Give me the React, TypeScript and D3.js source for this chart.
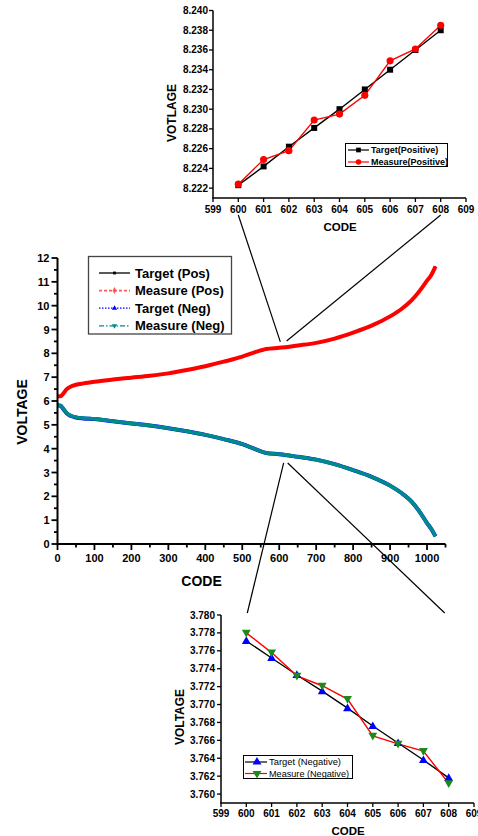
import React from "react";
import * as d3 from "d3";

// ---------- main chart data ----------
const codes = [0, 8, 15, 25, 35, 50, 70, 100, 150, 200, 250, 300, 350, 400, 450, 500, 535, 565, 600, 650, 700, 750, 800, 850, 900, 930, 960, 980, 1000, 1012, 1023];
const measurePos = [6.2, 6.2, 6.3, 6.5, 6.6, 6.68, 6.74, 6.81, 6.9, 6.98, 7.06, 7.16, 7.3, 7.46, 7.65, 7.86, 8.05, 8.18, 8.23, 8.33, 8.44, 8.62, 8.87, 9.16, 9.55, 9.85, 10.25, 10.62, 11.05, 11.3, 11.65];
const targetPos = [6.2, 6.2, 6.3, 6.5, 6.6, 6.68, 6.74, 6.81, 6.9, 6.98, 7.06, 7.16, 7.3, 7.46, 7.65, 7.86, 8.05, 8.18, 8.23, 8.33, 8.44, 8.62, 8.87, 9.16, 9.55, 9.85, 10.25, 10.62, 11.05, 11.3, 11.65];
const measureNeg = [5.82, 5.8, 5.7, 5.5, 5.4, 5.32, 5.28, 5.25, 5.15, 5.06, 4.97, 4.86, 4.73, 4.58, 4.4, 4.19, 3.98, 3.82, 3.77, 3.66, 3.54, 3.35, 3.1, 2.82, 2.45, 2.15, 1.75, 1.35, 0.88, 0.62, 0.32];
const targetNeg = [5.82, 5.8, 5.68, 5.48, 5.38, 5.31, 5.27, 5.24, 5.15, 5.06, 4.97, 4.86, 4.73, 4.58, 4.4, 4.19, 3.98, 3.82, 3.77, 3.66, 3.54, 3.35, 3.1, 2.82, 2.45, 2.15, 1.75, 1.35, 0.88, 0.62, 0.32];
const mainXTicks = [0, 100, 200, 300, 400, 500, 600, 700, 800, 900, 1000];
const mainYTicks = [0, 1, 2, 3, 4, 5, 6, 7, 8, 9, 10, 11, 12];
const mainLegend = ["Target (Pos)", "Measure (Pos)", "Target (Neg)", "Measure (Neg)"];

// ---------- zoom insets data ----------
const zoomCodes = [600, 601, 602, 603, 604, 605, 606, 607, 608];
const zoomTargetPos = [8.2223, 8.2242, 8.2262, 8.2281, 8.23, 8.232, 8.234, 8.236, 8.238];
const zoomMeasurePos = [8.2224, 8.2249, 8.2258, 8.2289, 8.2295, 8.2314, 8.2349, 8.2361, 8.2385];
const zoomTargetNeg = [3.7771, 3.7752, 3.7733, 3.7715, 3.7696, 3.7676, 3.7657, 3.7638, 3.7618];
const zoomMeasureNeg = [3.778, 3.7758, 3.7732, 3.7721, 3.7706, 3.7665, 3.7656, 3.7648, 3.7612];
const zoomXTicks = [599, 600, 601, 602, 603, 604, 605, 606, 607, 608, 609];
const posYTicks = [8.222, 8.224, 8.226, 8.228, 8.23, 8.232, 8.234, 8.236, 8.238, 8.24];
const negYTicks = [3.76, 3.762, 3.764, 3.766, 3.768, 3.77, 3.772, 3.774, 3.776, 3.778, 3.78];
const posLegend = ["Target(Positive)", "Measure(Positive)"];
const negLegend = ["Target (Negative)", "Measure (Negative)"];

const FONT = "Arial, 'Liberation Sans', Helvetica, sans-serif";
const W = 478;
const H = 836;

export default function App() {
  // main scales
  const xM = d3.scaleLinear().domain([0, 1050]).range([57.5, 445.5]);
  const yM = d3.scaleLinear().domain([0, 12]).range([544, 258]);
  // top inset
  const xT = d3.scaleLinear().domain([599, 609]).range([213, 466]);
  const yT = d3.scaleLinear().domain([8.221, 8.24]).range([198, 10.5]);
  // bottom inset
  const xB = d3.scaleLinear().domain([599, 609]).range([221, 474]);
  const yB = d3.scaleLinear().domain([3.759, 3.78]).range([803, 615]);

  const mainLine = (vals: number[]) =>
    d3
      .line<number>()
      .x((_, i) => xM(codes[i]))
      .y((v) => yM(v))
      .curve(d3.curveMonotoneX)(vals) || "";

  const insetLine = (xs: d3.ScaleLinear<number, number>, ys: d3.ScaleLinear<number, number>, vals: number[]) =>
    d3
      .line<number>()
      .x((_, i) => xs(zoomCodes[i]))
      .y((v) => ys(v))(vals) || "";

  const sq = d3.symbol().type(d3.symbolSquare).size(36)() || "";
  const circ = d3.symbol().type(d3.symbolCircle).size(40)() || "";
  const triUp = d3.symbol().type(d3.symbolTriangle).size(34)() || "";
  const diamond = d3.symbol().type(d3.symbolDiamond).size(14)() || "";
  const smallSq = d3.symbol().type(d3.symbolSquare).size(8)() || "";
  const smallTri = d3.symbol().type(d3.symbolTriangle).size(12)() || "";

  const minorX = d3.range(0, 1051, 50).filter((v) => v % 100 !== 0);
  const minorY = d3.range(0.5, 12, 1);

  // connector anchors (data space)
  const topConn = [
    { ix: xT(600), iy: yT.range()[0] + 17, mx: xM(603), my: yM(8.48) },
    { ix: xT(608), iy: yT.range()[0] + 17, mx: xM(620), my: yM(8.52) },
  ];
  const botConn = [
    { ix: xB(600) + 1, iy: yB.range()[1] - 2, mx: xM(612), my: yM(3.4) },
    { ix: xB(608) - 4, iy: yB.range()[1] - 2, mx: xM(623), my: yM(3.4) },
  ];

  const legendStyles = [
    { stroke: "#000", dash: "", w: 1.3, marker: smallSq, fill: "#000", rot: 0 },
    { stroke: "#ff5a5a", dash: "3,2", w: 1.6, marker: diamond, fill: "#ff5a5a", rot: 0 },
    { stroke: "#0000ff", dash: "1.5,1.5", w: 1.2, marker: smallTri, fill: "#0000ff", rot: 0 },
    { stroke: "#008b8b", dash: "5,2,1.5,2", w: 1.3, marker: smallTri, fill: "#008b8b", rot: 180 },
  ];

  return (
    <svg
      width={W}
      height={H}
      style={{ position: "absolute", left: 0, top: 0, background: "#fff" }}
      fontFamily={FONT}
    >
      <rect x={0} y={0} width={W} height={H} fill="#fff" />

      {/* connectors */}
      {[...topConn, ...botConn].map((c, i) => (
        <line key={"c" + i} x1={c.ix} y1={c.iy} x2={c.mx} y2={c.my} stroke="#000" strokeWidth={1.2} />
      ))}

      {/* ================= MAIN CHART ================= */}
      <g>
        <path d={mainLine(targetPos)} fill="none" stroke="#000" strokeWidth={1.5} />
        <path d={mainLine(measurePos)} fill="none" stroke="#ff0000" strokeWidth={4} />
        <path d={mainLine(targetNeg)} fill="none" stroke="#0000ff" strokeWidth={4} />
        <path d={mainLine(measureNeg)} fill="none" stroke="#008b8b" strokeWidth={3.6} />

        {/* axes */}
        <line x1={xM(0)} x2={xM(0)} y1={yM(0) + 1} y2={yM(12)} stroke="#000" strokeWidth={2} />
        <line x1={xM(0) - 1} x2={xM(1050)} y1={yM(0)} y2={yM(0)} stroke="#000" strokeWidth={2} />
        {mainYTicks.map((t) => (
          <g key={"my" + t}>
            <line x1={xM(0) - 6} x2={xM(0)} y1={yM(t)} y2={yM(t)} stroke="#000" strokeWidth={1.8} />
            <text x={xM(0) - 8} y={yM(t) + 4} textAnchor="end" fontSize={11} fontWeight="bold">
              {t}
            </text>
          </g>
        ))}
        {minorY.map((t) => (
          <line key={"mmy" + t} x1={xM(0) - 3.5} x2={xM(0)} y1={yM(t)} y2={yM(t)} stroke="#000" strokeWidth={1.8} />
        ))}
        {mainXTicks.map((t) => (
          <g key={"mx" + t}>
            <line x1={xM(t)} x2={xM(t)} y1={yM(0)} y2={yM(0) + 6} stroke="#000" strokeWidth={1.8} />
            <text x={xM(t)} y={yM(0) + 18} textAnchor="middle" fontSize={11} fontWeight="bold">
              {t}
            </text>
          </g>
        ))}
        {minorX.map((t) => (
          <line key={"mmx" + t} x1={xM(t)} x2={xM(t)} y1={yM(0)} y2={yM(0) + 3.5} stroke="#000" strokeWidth={1.8} />
        ))}
        <text x={(xM(0) + xM(1050)) / 2 - 50} y={586} textAnchor="middle" fontSize={14} fontWeight="bold">
          CODE
        </text>
        <text
          transform={`translate(27,${(yM(0) + yM(12)) / 2 + 11}) rotate(-90)`}
          textAnchor="middle"
          fontSize={14}
          fontWeight="bold"
        >
          VOLTAGE
        </text>

        {/* legend */}
        <rect x={88.5} y={256.5} width={143} height={77.5} fill="#fff" stroke="#444" strokeWidth={1.3} />
        {mainLegend.map((name, i) => {
          const s = legendStyles[i];
          const ly = 273 + i * 17.6;
          return (
            <g key={name}>
              <line x1={99} x2={130} y1={ly} y2={ly} stroke={s.stroke} strokeWidth={s.w} strokeDasharray={s.dash} />
              <path d={s.marker} transform={`translate(114.5,${ly}) rotate(${s.rot})`} fill={s.fill} />
              <text x={135} y={ly + 4.6} fontSize={13} fontWeight="bold">
                {name}
              </text>
            </g>
          );
        })}
      </g>

      {/* ================= TOP INSET ================= */}
      <g>
        <line x1={xT(599)} x2={xT(599)} y1={yT(8.221) + 0.5} y2={yT(8.24)} stroke="#000" strokeWidth={1.5} />
        <line x1={xT(599) - 0.5} x2={xT(609)} y1={yT(8.221)} y2={yT(8.221)} stroke="#000" strokeWidth={1.5} />
        {posYTicks.map((t) => (
          <g key={"ty" + t}>
            <line x1={xT(599) - 4} x2={xT(599)} y1={yT(t)} y2={yT(t)} stroke="#000" strokeWidth={1.3} />
            <text x={xT(599) - 5} y={yT(t) + 3.5} textAnchor="end" fontSize={10} fontWeight="bold">
              {t.toFixed(3)}
            </text>
          </g>
        ))}
        {zoomXTicks.map((t) => (
          <g key={"tx" + t}>
            <line x1={xT(t)} x2={xT(t)} y1={yT(8.221)} y2={yT(8.221) + 4} stroke="#000" strokeWidth={1.3} />
            <text x={xT(t)} y={yT(8.221) + 15} textAnchor="middle" fontSize={10} fontWeight="bold">
              {t}
            </text>
          </g>
        ))}
        <text x={340} y={231} textAnchor="middle" fontSize={11.5} fontWeight="bold">
          CODE
        </text>
        <text transform={`translate(176,113) rotate(-90)`} textAnchor="middle" fontSize={12} fontWeight="bold">
          VOTLAGE
        </text>
        <path d={insetLine(xT, yT, zoomTargetPos)} fill="none" stroke="#000" strokeWidth={1.4} />
        <path d={insetLine(xT, yT, zoomMeasurePos)} fill="none" stroke="#ff0000" strokeWidth={1.4} />
        {zoomTargetPos.map((v, i) => (
          <path key={"tps" + i} d={sq} transform={`translate(${xT(zoomCodes[i])},${yT(v)})`} fill="#000" />
        ))}
        {zoomMeasurePos.map((v, i) => (
          <path key={"mps" + i} d={circ} transform={`translate(${xT(zoomCodes[i])},${yT(v)})`} fill="#ff0000" />
        ))}
        {/* legend */}
        <rect x={345.5} y={143.5} width={102} height={23} fill="#fff" stroke="#000" strokeWidth={1} />
        {posLegend.map((name, i) => {
          const ly = 150 + i * 12;
          return (
            <g key={name}>
              <line x1={348} x2={369} y1={ly} y2={ly} stroke={i === 0 ? "#000" : "#ff0000"} strokeWidth={1.2} />
              <path
                d={i === 0 ? d3.symbol().type(d3.symbolSquare).size(22)() || "" : d3.symbol().type(d3.symbolCircle).size(24)() || ""}
                transform={`translate(358.5,${ly})`}
                fill={i === 0 ? "#000" : "#ff0000"}
              />
              <text x={371} y={ly + 3.3} fontSize={9} fontWeight="bold">
                {name}
              </text>
            </g>
          );
        })}
      </g>

      {/* ================= BOTTOM INSET ================= */}
      <g>
        <line x1={xB(599)} x2={xB(599)} y1={yB(3.759) + 0.5} y2={yB(3.78)} stroke="#000" strokeWidth={1.5} />
        <line x1={xB(599) - 0.5} x2={xB(609)} y1={yB(3.759)} y2={yB(3.759)} stroke="#000" strokeWidth={1.5} />
        {negYTicks.map((t) => (
          <g key={"by" + t}>
            <line x1={xB(599) - 4} x2={xB(599)} y1={yB(t)} y2={yB(t)} stroke="#000" strokeWidth={1.3} />
            <text x={xB(599) - 6} y={yB(t) + 3.5} textAnchor="end" fontSize={10} fontWeight="bold">
              {t.toFixed(3)}
            </text>
          </g>
        ))}
        {zoomXTicks.map((t) => (
          <g key={"bx" + t}>
            <line x1={xB(t)} x2={xB(t)} y1={yB(3.759)} y2={yB(3.759) + 4} stroke="#000" strokeWidth={1.3} />
            <text x={xB(t)} y={yB(3.759) + 14} textAnchor="middle" fontSize={10} fontWeight="bold">
              {t}
            </text>
          </g>
        ))}
        <text x={348} y={835} textAnchor="middle" fontSize={11.5} fontWeight="bold">
          CODE
        </text>
        <text transform={`translate(184,717) rotate(-90)`} textAnchor="middle" fontSize={12} fontWeight="bold">
          VOLTAGE
        </text>
        <path d={insetLine(xB, yB, zoomTargetNeg)} fill="none" stroke="#000" strokeWidth={1.4} />
        <path d={insetLine(xB, yB, zoomMeasureNeg)} fill="none" stroke="#ff0000" strokeWidth={1.4} />
        {zoomTargetNeg.map((v, i) => (
          <path key={"tns" + i} d={triUp} transform={`translate(${xB(zoomCodes[i])},${yB(v) + 0.5})`} fill="#0000ff" />
        ))}
        {zoomMeasureNeg.map((v, i) => (
          <path
            key={"mns" + i}
            d={triUp}
            transform={`translate(${xB(zoomCodes[i])},${yB(v) - 0.5}) rotate(180)`}
            fill="#1a8a1a"
          />
        ))}
        {/* legend */}
        <rect x={243.5} y={755.5} width={109} height={23} fill="#fff" stroke="#000" strokeWidth={1} />
        {negLegend.map((name, i) => {
          const ly = 762 + i * 11.5;
          return (
            <g key={name}>
              <line x1={245} x2={267} y1={ly} y2={ly} stroke={i === 0 ? "#000" : "#ff0000"} strokeWidth={1.2} />
              <path
                d={triUp}
                transform={`translate(257,${ly}) rotate(${i === 0 ? 0 : 180})`}
                fill={i === 0 ? "#0000ff" : "#1a8a1a"}
              />
              <text x={269} y={ly + 3.3} fontSize={9} textLength={i === 0 ? 72 : 80} lengthAdjust="spacingAndGlyphs">
                {name}
              </text>
            </g>
          );
        })}
      </g>
    </svg>
  );
}
